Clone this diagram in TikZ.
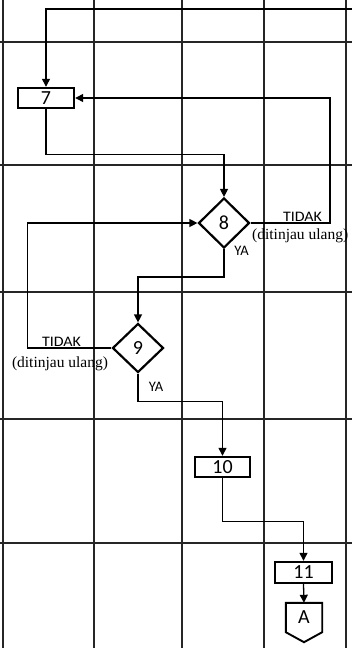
\documentclass[tikz,border=0pt]{standalone}
\usepackage{fontspec}
\setmainfont{Carlito}
\newfontfamily\serifx{Liberation Serif}
\usetikzlibrary{shapes.geometric,arrows.meta,calc}
\begin{document}
\begin{tikzpicture}[x=1pt,y=-1pt,
  grid/.style={line width=1.3pt,black!85},
  procbox/.style={draw,line width=2.4pt,rectangle,inner sep=0pt,font=\fontsize{20}{20}\selectfont},
  decis/.style={draw,line width=2.2pt,diamond,inner sep=0pt,minimum width=51pt,minimum height=50pt,font=\fontsize{20}{20}\selectfont},
  flow/.style={line width=1.3pt},
  arr/.style={flow,-{Triangle[length=8pt,width=8pt]}},
  lab/.style={font=\fontsize{14.5}{14.5}\selectfont,inner sep=0pt},
  serlab/.style={font=\serifx\fontsize{15.5}{15.5}\selectfont,inner sep=0pt}]
\useasboundingbox (0,0) rectangle (352,648);
% grid
\foreach \gx in {3,94,182,264,346} \draw[grid] (\gx,0) -- (\gx,648);
\foreach \gy in {42,165,292,419,543} \draw[grid] (0,\gy) -- (352,\gy);
% nodes
\node[procbox,minimum width=56pt,minimum height=20pt] (n7) at (46,98) {7};
\node[decis] (d8) at (224,223) {8};
\node[decis,minimum height=49pt] (d9) at (138,348) {9};
\node[procbox,minimum width=55pt,minimum height=20pt] (n10) at (222.5,467) {10};
\node[procbox,minimum width=57pt,minimum height=21pt] (n11) at (303.5,572.5) {11};
\node[inner sep=0pt,minimum width=36pt,minimum height=29pt,font=\fontsize{20}{20}\selectfont] (A) at (304,617.5) {A};
\draw[line width=1.9pt,line join=miter] (A.north west) -- (A.north east) -- (A.south east) -- ($(A.south)+(0,10)$) -- (A.south west) -- cycle;
% connectors
\coordinate (topR) at (352,9);
\draw[arr] (topR) -| (n7.north);
\draw[arr] (n7.south) -- ++(0,45) -| (d8.north);
\draw[arr] (d8.east) -- ++(79.5,0) |- (n7.east);
\draw[arr] (d8.south) -- ++(0,28) -| (d9.north);
\draw[arr] (d9.west) -- ++(-84,0) |- (d8.west);
\draw[arr] (d9.south) -- ++(0,28) -| (n10.north);
\draw[arr] (n10.south) -- ++(0,43) -| (n11.north);
\draw[arr] (n11.south) -- (A.north);
% labels
\node[lab,xscale=1.1] (t8) at (302.5,217) {TIDAK};
\node[serlab,anchor=west] (u8) at (252,236) {(ditinjau ulang)};
\node[lab] (y8) at (241.5,250.5) {YA};
\node[lab,xscale=1.1] (t9) at (61.5,342) {TIDAK};
\node[serlab] (u9) at (60,364) {(ditinjau ulang)};
\node[lab] (y9) at (156,386.5) {YA};
\end{tikzpicture}
\end{document}
